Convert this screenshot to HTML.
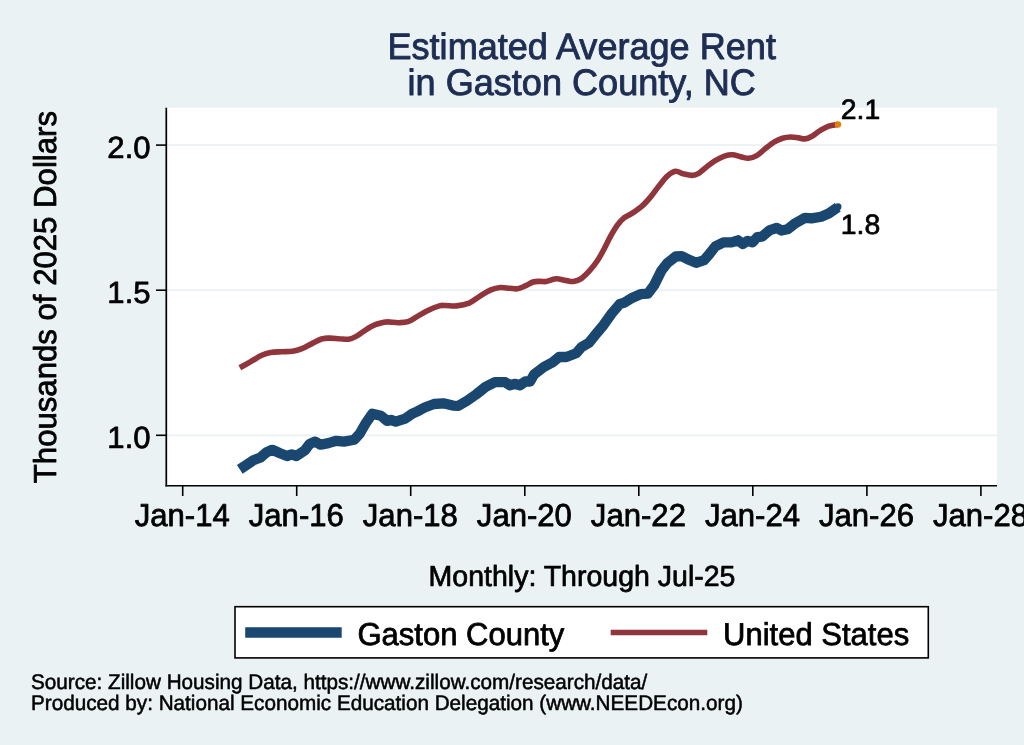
<!DOCTYPE html>
<html lang="en"><head><meta charset="utf-8"><title>Estimated Average Rent in Gaston County, NC</title>
<style>
html,body{margin:0;padding:0;background:#EAF2F3;}
body{width:1024px;height:745px;overflow:hidden;}
svg{display:block;font-family:"Liberation Sans", sans-serif;}
text{font-family:"Liberation Sans", sans-serif;text-rendering:geometricPrecision;}
</style></head><body>
<svg width="1024" height="745" viewBox="0 0 1024 745">
<rect x="0" y="0" width="1024" height="745" fill="#EAF2F3"/>
<rect x="166.3" y="107.7" width="830.75" height="378.1" fill="#ffffff"/>
<line x1="167" x2="997.05" y1="435.3" y2="435.3" stroke="#EAF2F3" stroke-width="1.8"/>
<line x1="167" x2="997.05" y1="290.2" y2="290.2" stroke="#EAF2F3" stroke-width="1.8"/>
<line x1="167" x2="997.05" y1="145.1" y2="145.1" stroke="#EAF2F3" stroke-width="1.8"/>
<path d="M239.8,367.8 C241.6,366.8 246.7,363.9 250.3,361.9 C253.9,359.9 257.9,357.2 261.2,355.6 C264.6,354.0 267.2,353.1 270.6,352.5 C274.0,351.9 278.0,351.9 281.6,351.7 C285.2,351.5 289.1,351.8 292.5,351.2 C295.9,350.7 298.5,350.0 301.9,348.6 C305.3,347.2 309.4,344.7 312.8,343.1 C316.2,341.5 319.3,339.6 322.2,338.8 C325.1,337.9 327.1,338.1 330.0,338.1 C332.9,338.1 336.3,338.6 339.4,338.8 C342.5,338.9 345.9,339.6 348.8,339.2 C351.6,338.8 353.7,337.7 356.6,336.1 C359.5,334.5 362.8,331.7 365.9,329.8 C369.0,327.9 372.4,325.9 375.3,324.7 C378.2,323.5 381.0,323.0 383.1,322.5 C385.2,322.0 385.2,321.9 387.8,321.9 C390.4,321.9 395.4,322.8 398.8,322.7 C402.1,322.6 405.0,322.7 408.1,321.6 C411.2,320.6 414.1,318.3 417.5,316.4 C420.9,314.5 424.8,311.9 428.4,310.2 C432.0,308.4 436.5,306.7 439.4,305.9 C442.3,305.1 442.7,305.5 445.6,305.5 C448.5,305.5 452.7,306.3 456.6,305.9 C460.5,305.5 465.2,304.7 469.1,303.1 C473.0,301.5 476.4,298.3 480.0,296.1 C483.6,293.9 487.5,291.2 490.9,289.8 C494.3,288.4 497.2,287.8 500.3,287.5 C503.4,287.2 506.8,288.1 509.7,288.3 C512.6,288.5 514.9,289.1 517.5,288.8 C520.1,288.4 522.7,287.0 525.3,285.9 C527.9,284.8 530.6,282.8 533.1,282.0 C535.6,281.2 537.8,281.5 540.0,281.4 C542.2,281.3 543.5,281.9 546.1,281.5 C548.7,281.1 552.6,279.0 555.8,278.8 C559.0,278.6 562.4,279.9 565.4,280.4 C568.4,280.8 570.8,281.9 573.5,281.5 C576.2,281.1 578.9,280.1 581.6,278.3 C584.3,276.5 586.9,273.7 589.6,270.7 C592.3,267.7 595.3,263.8 597.7,260.2 C600.1,256.6 602.0,253.0 604.1,249.0 C606.2,245.0 608.5,240.0 610.6,236.1 C612.8,232.2 614.9,228.6 617.0,225.6 C619.1,222.6 620.8,220.5 623.5,218.3 C626.2,216.2 629.9,214.8 633.1,212.7 C636.3,210.5 639.8,208.1 642.8,205.4 C645.8,202.7 648.2,199.8 650.9,196.6 C653.6,193.4 656.2,189.5 658.9,186.1 C661.6,182.7 664.2,178.9 667.0,176.4 C669.8,173.9 672.7,171.7 675.5,171.3 C678.3,170.9 680.8,173.2 683.6,173.9 C686.4,174.6 689.7,175.5 692.2,175.4 C694.7,175.3 696.3,174.7 698.7,173.3 C701.1,171.9 704.0,169.0 706.7,166.9 C709.4,164.8 711.8,162.7 714.8,160.9 C717.8,159.1 721.5,157.1 724.5,156.1 C727.5,155.1 729.8,154.7 732.5,154.8 C735.2,154.9 737.9,156.1 740.6,156.7 C743.3,157.3 745.9,158.5 748.6,158.3 C751.3,158.1 754.0,157.1 756.7,155.6 C759.4,154.1 761.8,151.4 764.7,149.1 C767.7,146.8 771.4,143.7 774.4,141.9 C777.4,140.1 779.8,139.1 782.5,138.3 C785.2,137.5 787.8,137.1 790.5,137.0 C793.2,136.9 796.2,137.6 798.6,137.9 C801.0,138.2 802.9,139.1 805.0,138.9 C807.1,138.7 809.0,137.9 811.5,136.5 C814.0,135.1 817.2,132.3 820.1,130.6 C823.0,128.9 825.7,127.1 828.7,126.1 C831.7,125.1 836.5,124.7 838.0,124.4" fill="none" stroke="#90353B" stroke-width="5.6" stroke-linejoin="round" stroke-linecap="butt"/>
<polyline points="239.8,469.4 253.4,460.3 260.5,457.5 266.7,452.2 272.2,449.8 280.0,453.3 287.0,456.0 291.7,454.4 296.4,456.0 305.0,450.2 309.7,443.9 315.2,441.6 320.6,444.7 328.4,443.1 336.3,440.8 344.0,441.6 354.2,439.7 359.7,433.8 366.0,422.8 372.2,413.8 380.9,415.8 387.2,420.9 391.1,420.0 395.8,421.6 405.2,418.6 411.4,414.2 416.9,411.6 424.7,407.5 434.0,404.0 443.4,403.3 452.8,405.6 458.3,405.9 466.9,400.9 476.2,394.4 485.6,386.9 495.0,382.2 505.2,382.2 509.8,385.3 515.3,383.8 520.0,385.3 525.3,381.5 530.1,381.5 534.2,374.3 543.8,367.0 552.7,362.2 559.1,357.0 566.4,357.0 576.1,353.3 581.7,346.9 589.0,342.8 595.4,334.8 603.5,325.1 611.5,313.8 619.6,304.2 624.4,302.6 632.5,297.7 640.5,294.2 647.8,293.7 654.2,285.1 661.4,270.6 667.1,263.3 675.9,256.4 681.6,256.1 689.6,260.1 696.1,262.8 704.1,260.1 709.0,254.5 715.4,246.4 723.5,242.4 731.5,242.4 738.0,240.3 742.8,244.0 747.6,240.8 752.5,242.4 757.3,237.1 762.1,236.7 769.4,230.3 776.6,227.9 781.5,230.5 787.5,229.3 795.4,223.2 805.1,217.8 811.5,218.4 821.2,216.7 828.7,213.5 837.8,207.2" fill="none" stroke="#1A476F" stroke-width="10.3" stroke-linejoin="round" stroke-linecap="butt"/>
<circle cx="838" cy="124.4" r="3.2" fill="#E37E00"/>
<circle cx="838" cy="206.8" r="3.5" fill="#1A476F"/>
<line x1="166.3" x2="166.3" y1="107.7" y2="486.6" stroke="#000" stroke-width="1.7"/>
<line x1="165.5" x2="997.05" y1="485.8" y2="485.8" stroke="#000" stroke-width="1.6"/>
<line x1="182.7" x2="182.7" y1="485.8" y2="496" stroke="#000" stroke-width="1.6"/>
<text transform="translate(182.26,526.20) scale(1,1.02)" font-size="31.1" text-anchor="middle" fill="#000" stroke="#000" stroke-width="0.76" stroke-linejoin="round">Jan-14</text>
<line x1="296.7" x2="296.7" y1="485.8" y2="496" stroke="#000" stroke-width="1.6"/>
<text transform="translate(296.29,526.20) scale(1,1.02)" font-size="31.1" text-anchor="middle" fill="#000" stroke="#000" stroke-width="0.76" stroke-linejoin="round">Jan-16</text>
<line x1="410.7" x2="410.7" y1="485.8" y2="496" stroke="#000" stroke-width="1.6"/>
<text transform="translate(410.33,526.20) scale(1,1.02)" font-size="31.1" text-anchor="middle" fill="#000" stroke="#000" stroke-width="0.76" stroke-linejoin="round">Jan-18</text>
<line x1="524.8" x2="524.8" y1="485.8" y2="496" stroke="#000" stroke-width="1.6"/>
<text transform="translate(524.36,526.20) scale(1,1.02)" font-size="31.1" text-anchor="middle" fill="#000" stroke="#000" stroke-width="0.76" stroke-linejoin="round">Jan-20</text>
<line x1="638.8" x2="638.8" y1="485.8" y2="496" stroke="#000" stroke-width="1.6"/>
<text transform="translate(638.40,526.20) scale(1,1.02)" font-size="31.1" text-anchor="middle" fill="#000" stroke="#000" stroke-width="0.76" stroke-linejoin="round">Jan-22</text>
<line x1="752.8" x2="752.8" y1="485.8" y2="496" stroke="#000" stroke-width="1.6"/>
<text transform="translate(752.43,526.20) scale(1,1.02)" font-size="31.1" text-anchor="middle" fill="#000" stroke="#000" stroke-width="0.76" stroke-linejoin="round">Jan-24</text>
<line x1="866.9" x2="866.9" y1="485.8" y2="496" stroke="#000" stroke-width="1.6"/>
<text transform="translate(866.46,526.20) scale(1,1.02)" font-size="31.1" text-anchor="middle" fill="#000" stroke="#000" stroke-width="0.76" stroke-linejoin="round">Jan-26</text>
<line x1="980.9" x2="980.9" y1="485.8" y2="496" stroke="#000" stroke-width="1.6"/>
<text transform="translate(980.50,526.20) scale(1,1.02)" font-size="31.1" text-anchor="middle" fill="#000" stroke="#000" stroke-width="0.76" stroke-linejoin="round">Jan-28</text>
<line x1="156" x2="166.3" y1="435.3" y2="435.3" stroke="#000" stroke-width="1.6"/>
<text transform="translate(150.60,447.90) scale(1,0.985)" font-size="31.1" text-anchor="end" fill="#000" stroke="#000" stroke-width="0.76" stroke-linejoin="round">1.0</text>
<line x1="156" x2="166.3" y1="290.2" y2="290.2" stroke="#000" stroke-width="1.6"/>
<text transform="translate(150.60,302.80) scale(1,0.985)" font-size="31.1" text-anchor="end" fill="#000" stroke="#000" stroke-width="0.76" stroke-linejoin="round">1.5</text>
<line x1="156" x2="166.3" y1="145.1" y2="145.1" stroke="#000" stroke-width="1.6"/>
<text transform="translate(150.60,157.70) scale(1,0.985)" font-size="31.1" text-anchor="end" fill="#000" stroke="#000" stroke-width="0.76" stroke-linejoin="round">2.0</text>
<text transform="translate(581.70,59.25) scale(1,1.02)" font-size="36.1" text-anchor="middle" fill="#1E2D53" stroke="#1E2D53" stroke-width="0.88" stroke-linejoin="round">Estimated Average Rent</text>
<text transform="translate(581.70,95.35) scale(1,1.02)" font-size="36.1" text-anchor="middle" fill="#1E2D53" stroke="#1E2D53" stroke-width="0.88" stroke-linejoin="round">in Gaston County, NC</text>
<text transform="translate(56.00,297.10) rotate(-90) scale(1,1.02)" font-size="31.15" text-anchor="middle" fill="#000" stroke="#000" stroke-width="0.76" stroke-linejoin="round">Thousands of 2025 Dollars</text>
<text transform="translate(582.00,585.60) scale(1,1.02)" font-size="28.5" text-anchor="middle" fill="#000" stroke="#000" stroke-width="0.7" stroke-linejoin="round">Monthly: Through Jul-25</text>
<text transform="translate(840.80,119.00) scale(1,0.985)" font-size="28.4" text-anchor="start" fill="#000" stroke="#000" stroke-width="0.7" stroke-linejoin="round">2.1</text>
<text transform="translate(840.80,233.80) scale(1,0.985)" font-size="28.4" text-anchor="start" fill="#000" stroke="#000" stroke-width="0.7" stroke-linejoin="round">1.8</text>
<rect x="235" y="606.7" width="693.3" height="51.2" fill="#fff" stroke="#000" stroke-width="1.6"/>
<line x1="245.2" x2="341.7" y1="632.45" y2="632.45" stroke="#1A476F" stroke-width="10.4"/>
<text transform="translate(357.50,645.10) scale(1,1.02)" font-size="31.0" text-anchor="start" fill="#000" stroke="#000" stroke-width="0.76" stroke-linejoin="round">Gaston County</text>
<line x1="610.7" x2="707.3" y1="632.45" y2="632.45" stroke="#90353B" stroke-width="5.6"/>
<text transform="translate(723.10,645.10) scale(1,1.02)" font-size="31.0" text-anchor="start" fill="#000" stroke="#000" stroke-width="0.76" stroke-linejoin="round">United States</text>
<text transform="translate(31.00,689.00) scale(1,1.02)" font-size="20.7" text-anchor="start" fill="#000" stroke="#000" stroke-width="0.51" stroke-linejoin="round">Source: Zillow Housing Data, https://www.zillow.com/research/data/</text>
<text transform="translate(31.00,710.00) scale(1,1.02)" font-size="20.7" text-anchor="start" fill="#000" stroke="#000" stroke-width="0.51" stroke-linejoin="round">Produced by: National Economic Education Delegation (www.NEEDEcon.org)</text>
</svg>
</body></html>
